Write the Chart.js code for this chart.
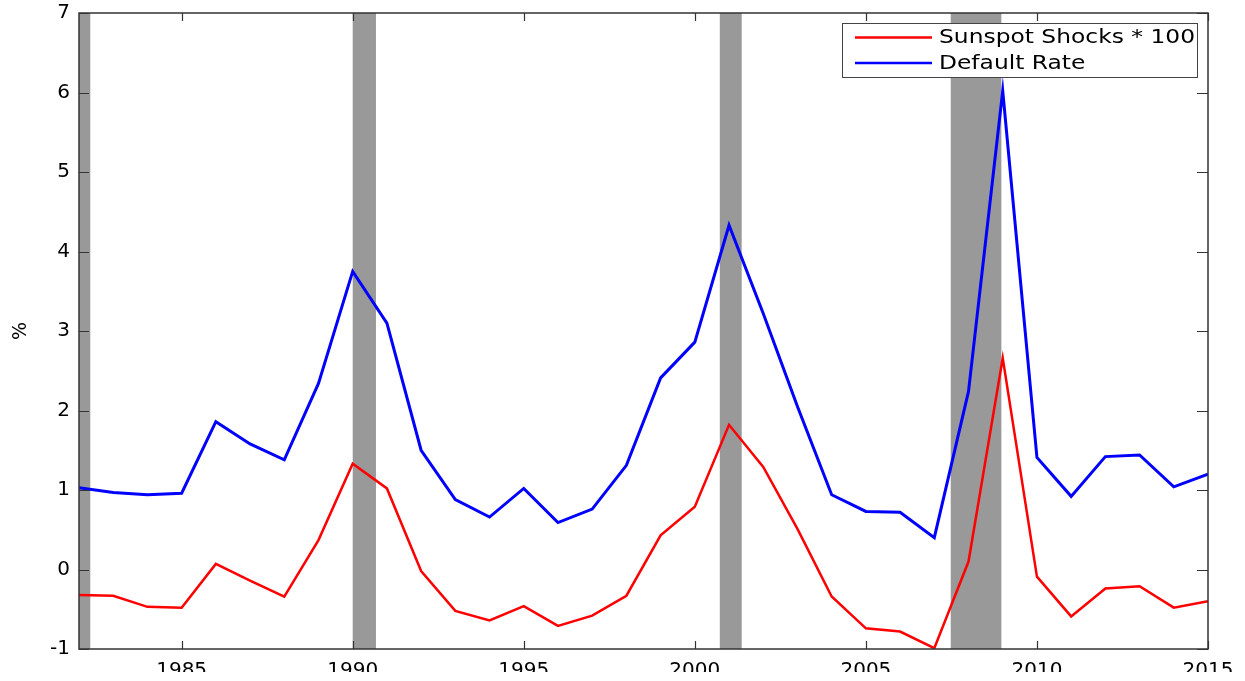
<!DOCTYPE html>
<html>
<head>
<meta charset="utf-8">
<script src="https://cdn.jsdelivr.net/npm/chart.js@4/dist/chart.umd.min.js"></script>
<style>
  html, body { margin: 0; padding: 0; background: #fff; overflow: hidden; }
  #wrap { width: 1245px; height: 672px; }
</style>
</head>
<body>
<div id="wrap"><canvas id="shockChart"></canvas></div>
<script>
// Sunspot shocks vs default rate, 1982-2015

const years = [1982, 1983, 1984, 1985, 1986, 1987, 1988, 1989, 1990, 1991, 1992, 1993,
  1994, 1995, 1996, 1997, 1998, 1999, 2000, 2001, 2002, 2003, 2004, 2005, 2006, 2007,
  2008, 2009, 2010, 2011, 2012, 2013, 2014, 2015];

const sunspotShocks = [-0.32, -0.33, -0.47, -0.48, 0.07, -0.14, -0.34, 0.37, 1.33, 1.02,
  -0.02, -0.52, -0.64, -0.46, -0.71, -0.58, -0.33, 0.43, 0.79, 1.82, 1.29, 0.51, -0.34,
  -0.74, -0.78, -0.99, 0.10, 2.66, -0.09, -0.59, -0.24, -0.21, -0.48, -0.40];

const defaultRate = [1.03, 0.97, 0.94, 0.96, 1.86, 1.58, 1.38, 2.34, 3.75, 3.10, 1.50, 0.88,
  0.66, 1.02, 0.59, 0.76, 1.31, 2.41, 2.86, 4.33, 3.22, 2.05, 0.94, 0.73, 0.72, 0.40,
  2.24, 6.02, 1.41, 0.92, 1.42, 1.44, 1.04, 1.20];

// recession periods [start, end] in fractional years
const recessions = [[1982, 1982.33], [1990.0, 1990.68], [2000.73, 2001.37], [2007.48, 2008.96]];

const xTicks = [1985, 1990, 1995, 2000, 2005, 2010, 2015];
const yTicks = [-1, 0, 1, 2, 3, 4, 5, 6, 7];

const FONT = '"DejaVu Sans", "Liberation Sans", sans-serif';

const frameAndBands = {
  id: 'frameAndBands',
  beforeDatasetsDraw(chart) {
    const { ctx, chartArea: a, scales: { x } } = chart;
    ctx.save();
    ctx.fillStyle = '#999999';
    recessions.forEach(([s, e]) => {
      const x1 = Math.max(x.getPixelForValue(s), a.left);
      const x2 = Math.min(x.getPixelForValue(e), a.right);
      ctx.fillRect(x1, a.top, x2 - x1, a.bottom - a.top);
    });
    ctx.restore();
  },
  afterDatasetsDraw(chart) {
    const { ctx, chartArea: a, scales: { x, y } } = chart;
    ctx.save();
    ctx.strokeStyle = '#333';
    ctx.lineWidth = 1.5;
    ctx.strokeRect(a.left, a.top, a.right - a.left, a.bottom - a.top);
    // inward tick marks on all four sides
    ctx.lineWidth = 1.2;
    ctx.beginPath();
    xTicks.forEach(v => {
      const px = Math.round(x.getPixelForValue(v)) + 0.5;
      ctx.moveTo(px, a.bottom); ctx.lineTo(px, a.bottom - 8);
      ctx.moveTo(px, a.top); ctx.lineTo(px, a.top + 8);
    });
    yTicks.forEach(v => {
      const py = Math.round(y.getPixelForValue(v)) + 0.5;
      ctx.moveTo(a.left, py); ctx.lineTo(a.left + 10, py);
      ctx.moveTo(a.right, py); ctx.lineTo(a.right - 11, py);
    });
    ctx.stroke();

    // legend box, top right inside the plot
    const bx = a.right - 366, by = a.top + 10, bw = 355, bh = 54;
    ctx.fillStyle = '#fff';
    ctx.fillRect(bx, by, bw, bh);
    ctx.strokeStyle = '#444';
    ctx.lineWidth = 1;
    ctx.strokeRect(bx + 0.5, by + 0.5, bw, bh);
    ctx.font = '19px ' + FONT;
    ctx.textBaseline = 'middle';
    const labels = chart.data.datasets.map(d => d.label);
    const widest = Math.max(...labels.map(t => ctx.measureText(t).width));
    const stretch = 256 / widest;
    chart.data.datasets.forEach((d, i) => {
      const ly = by + 14.5 + i * 25.5;
      ctx.strokeStyle = d.borderColor;
      ctx.lineWidth = 2.5;
      ctx.beginPath();
      ctx.moveTo(bx + 13, ly); ctx.lineTo(bx + 90, ly);
      ctx.stroke();
      ctx.save();
      ctx.translate(bx + 97, ly + 1);
      ctx.scale(stretch, 1);
      ctx.fillStyle = '#000';
      ctx.fillText(d.label, 0, 0);
      ctx.restore();
    });
    ctx.restore();
  }
};

new Chart(document.getElementById('shockChart'), {
  type: 'line',
  data: {
    datasets: [{
      label: 'Sunspot Shocks * 100',
      data: years.map((yr, i) => ({ x: yr, y: sunspotShocks[i] })),
      borderColor: '#ff0000',
      borderWidth: 2.5,
      pointRadius: 0,
      tension: 0
    }, {
      label: 'Default Rate',
      data: years.map((yr, i) => ({ x: yr, y: defaultRate[i] })),
      borderColor: '#0000ff',
      borderWidth: 3,
      pointRadius: 0,
      tension: 0
    }]
  },
  options: {
    responsive: true,
    maintainAspectRatio: false,
    animation: false,
    layout: { padding: { top: 13, right: 37, left: 0, bottom: 0 } },
    scales: {
      x: {
        type: 'linear',
        min: 1982,
        max: 2015,
        afterBuildTicks: scale => { scale.ticks = xTicks.map(v => ({ value: v })); },
        afterFit: scale => {
          scale.height = 23;
          scale.paddingLeft = 0;
          scale.paddingRight = 0;
        },
        grid: { display: false, drawTicks: false, tickLength: 0 },
        border: { display: false },
        ticks: {
          padding: 10,
          color: '#000',
          maxRotation: 0,
          autoSkip: false,
          font: { family: FONT, size: 20 },
          callback: v => String(v)
        }
      },
      y: {
        min: -1,
        max: 7,
        afterBuildTicks: scale => { scale.ticks = yTicks.map(v => ({ value: v })); },
        afterFit: scale => {
          scale.width = 79;
          scale.paddingTop = 0;
          scale.paddingBottom = 0;
        },
        grid: { display: false, drawTicks: false, tickLength: 0 },
        border: { display: false },
        title: {
          display: true,
          text: '%',
          color: '#000',
          padding: { top: 10, bottom: 0 },
          font: { family: FONT, size: 19 }
        },
        ticks: {
          padding: 9,
          color: '#000',
          font: { family: FONT, size: 20 }
        }
      }
    },
    plugins: {
      legend: { display: false },
      tooltip: { enabled: false }
    }
  },
  plugins: [frameAndBands]
});
</script>
</body>
</html>
